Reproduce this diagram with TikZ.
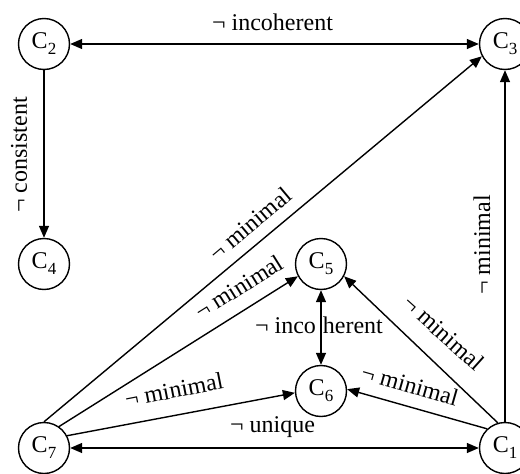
\documentclass[tikz,border=0pt]{standalone}
\usepackage{fontspec}
\setmainfont{Liberation Serif}
\usetikzlibrary{arrows.meta}
\newcommand\stt[1]{C\raisebox{-6pt}{\fontsize{17}{17}\selectfont #1}}
\begin{document}
\begin{tikzpicture}[x=1pt,y=-1pt,
  state/.style={draw, circle, line width=1.4pt, minimum size=51pt, inner sep=0pt, font=\fontsize{24}{28}\selectfont},
  conn/.style={line width=1.4pt, -{Triangle[length=12pt,width=10pt]}},
  both/.style={line width=1.4pt, {Triangle[length=12pt,width=10pt]}-{Triangle[length=12pt,width=10pt]}},
  lab/.style={font=\fontsize{24}{28}\selectfont, inner sep=0pt}]
\useasboundingbox (0,0) rectangle (520,474);
\node[state] (C2) at (44,44) {\stt{2}};
\node[state] (C3) at (505,44) {\stt{3}};
\node[state] (C4) at (44,264) {\stt{4}};
\node[state] (C5) at (321,264) {\stt{5}};
\node[state] (C6) at (321,391) {\stt{6}};
\node[state] (C7) at (44,448) {\stt{7}};
\node[state] (C1) at (505,448) {\stt{1}};
\draw[both] (C2) -- (C3);
\draw[conn] (C2) -- (C4);
\draw[both] (C7) -- (C1);
\draw[both] (C5) -- (C6);
\draw[conn] (C1) -- (C3);
\draw[conn] (C7.90) -- (C3.208);
\draw[conn] (C7.55) -- (C5.208);
\draw[conn] (C7.28) -- (C6.184);
\draw[conn] (C1.106) -- (C5.332);
\draw[conn] (C1.133) -- (C6.4);
\node[lab, anchor=base] (l1) at (272.5,30) {¬ incoherent};
\node[lab, rotate=90] (l2) at (19,155) {¬ consistent};
\node[lab, rotate=40] (l3) at (250,224) {¬ minimal};
\node[lab, rotate=32] (l4) at (239,287) {¬ minimal};
\node[lab, rotate=11] (l5) at (174,390) {¬ minimal};
\node[lab, anchor=base] (l6) at (272.5,432) {¬ unique};
\node[lab, anchor=base] (l7) at (319,333) {¬ inco\hspace{7pt}herent};
\node[lab, rotate=-42] (l8) at (444,333) {¬ minimal};
\node[lab, rotate=-16] (l9) at (410,385) {¬ minimal};
\node[lab, rotate=90] (l10) at (482,245) {¬ minimal};
\end{tikzpicture}
\end{document}
